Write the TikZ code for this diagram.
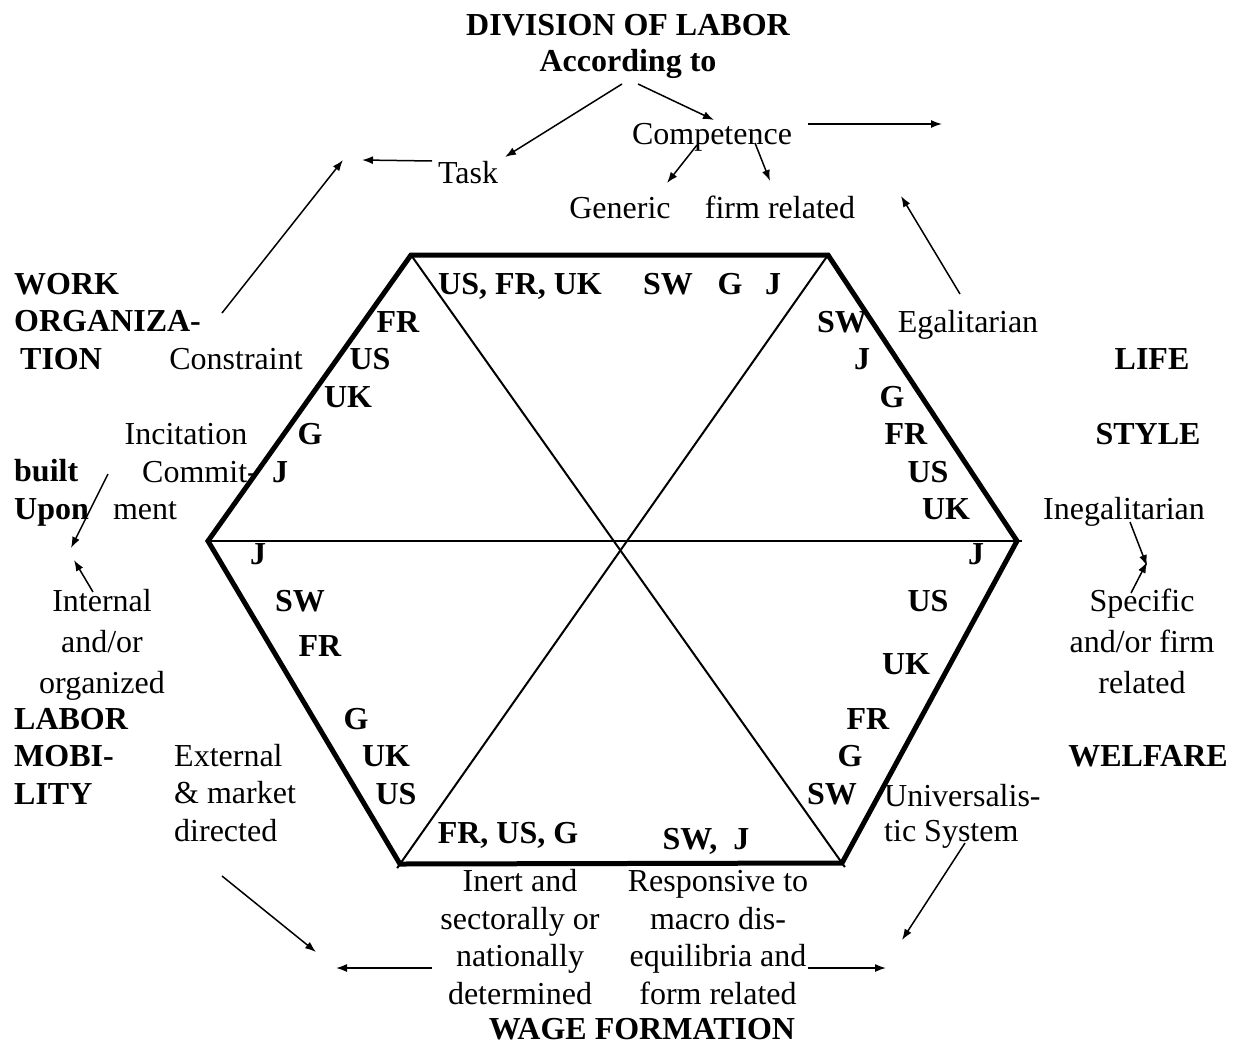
\documentclass[tikz,border=0pt]{standalone}
\usepackage{fontspec}
\setmainfont{Liberation Serif}
\usetikzlibrary{arrows.meta}

\begin{document}
\begin{tikzpicture}[x=1pt,y=-1pt,
    every node/.style={font=\fontsize{32}{37.5}\selectfont,inner sep=0pt,anchor=base},
    hdr/.style={font=\fontsize{32}{37.5}\selectfont\bfseries},
    cty/.style={font=\fontsize{32}{37.5}\selectfont\bfseries},
    wide/.style={font=\fontsize{32}{41}\selectfont},
    hexo/.style={line width=5pt},
    axis/.style={line width=2pt,shorten >=-5pt},
    arr/.style={-{Latex[length=11pt,width=8pt]},line width=1.5pt}
]
\useasboundingbox (0,0) rectangle (1238,1044);

% hexagon corners
\coordinate (tl) at (411,255);
\coordinate (tr) at (828,255);
\coordinate (r) at (1017,541);
\coordinate (br) at (842,863);
\coordinate (bl) at (400,864);
\coordinate (l) at (208,541);
\draw[axis] (tl) -- (br);
\draw[axis] (tr) -- (bl);
\draw[axis] (l) -- (r);
\draw[hexo] (tl) -- (tr) -- (r) -- (br) -- (bl) -- (l) -- cycle;

% division of labor
\node[hdr] (div) at (628,35) {DIVISION OF LABOR};
\node[hdr] (acc) at (628,71) {According to};
\node (comp) at (712,144) {Competence};
\node (task) at (468,183) {Task};
\node (gen) at (620,218) {Generic};
\node (firm) at (780,218) {firm related};

% work organization (multi-line nodes sit on their last line)
\node[hdr,anchor=base west,align=left] (work) at (14,369) {WORK\\ORGANIZA-\\\hspace*{6pt}TION};
\node (constr) at (236,369) {Constraint};
\node (incit) at (186,444) {Incitation};
\node (commit) at (200,482) {Commit-};
\node (ment) at (145,519) {ment};
\node[hdr,anchor=base west,align=left] (built) at (14,519) {built\\Upon};

% labor mobility
\node[wide,align=center] (intern) at (102,693) {Internal\\and/or\\organized};
\node[hdr,anchor=base west,align=left] (labmob) at (14,804) {LABOR\\MOBI-\\LITY};
\node[anchor=base west,align=left] (extern) at (174,841) {External\\\& market\\directed};

% wage formation
\node[align=center] (inert) at (520,1004) {Inert and\\sectorally or\\nationally\\determined};
\node[align=center] (resp) at (718,1004) {Responsive to\\macro dis-\\equilibria and\\form related};
\node[hdr] (wage) at (642,1039) {WAGE FORMATION};

% welfare
\node[anchor=base west,align=left,font=\fontsize{32}{35}\selectfont] (univ) at (884,841) {Universalis-\\tic System};
\node[hdr] (welf) at (1148,766) {WELFARE};

% life style
\node (egal) at (968,332) {Egalitarian};
\node[hdr] (life) at (1152,369) {LIFE};
\node[hdr] (style) at (1148,444) {STYLE};
\node (ineg) at (1124,519) {Inegalitarian};
\node[wide,align=center] (spec) at (1142,693) {Specific\\and/or firm\\related};

% countries, top edge
\node[cty] (t1) at (520,294) {US, FR, UK};
\node[cty] (t2) at (668,294) {SW};
\node[cty] (t3) at (730,294) {G};
\node[cty] (t4) at (773,294) {J};
% upper left edge
\node[cty] (ul1) at (398,332) {FR};
\node[cty] (ul2) at (370,369) {US};
\node[cty] (ul3) at (348,407) {UK};
\node[cty] (ul4) at (310,444) {G};
\node[cty] (ul5) at (280,482) {J};
% upper right edge
\node[cty] (ur1) at (842,332) {SW};
\node[cty] (ur2) at (862,369) {J};
\node[cty] (ur3) at (892,407) {G};
\node[cty] (ur4) at (906,444) {FR};
\node[cty] (ur5) at (928,482) {US};
\node[cty] (ur6) at (946,519) {UK};
% lower left edge
\node[cty] (ll1) at (258,564) {J};
\node[cty] (ll2) at (300,611) {SW};
\node[cty] (ll3) at (320,656) {FR};
\node[cty] (ll4) at (356,729) {G};
\node[cty] (ll5) at (386,766) {UK};
\node[cty] (ll6) at (396,804) {US};
% lower right edge
\node[cty] (lr1) at (976,564) {J};
\node[cty] (lr2) at (928,611) {US};
\node[cty] (lr3) at (906,674) {UK};
\node[cty] (lr4) at (868,729) {FR};
\node[cty] (lr5) at (850,766) {G};
\node[cty] (lr6) at (832,804) {SW};
% bottom edge
\node[cty] (b1) at (508,843) {FR, US, G};
\node[cty] (b2) at (706,849) {SW,\ \ J};

% arrow ends
\coordinate (a1s) at (622,84);   \coordinate (a1e) at (505,157);
\coordinate (a2s) at (638,84);   \coordinate (a2e) at (714,120);
\coordinate (a3s) at (808,124);  \coordinate (a3e) at (942,124);
\coordinate (a4s) at (432,161);  \coordinate (a4e) at (362,160);
\coordinate (a5s) at (697,145);  \coordinate (a5e) at (667,183);
\coordinate (a6s) at (755,143);  \coordinate (a6e) at (770,181);
\coordinate (a7s) at (960,294);  \coordinate (a7e) at (901,196);
\coordinate (a8s) at (222,313);  \coordinate (a8e) at (343,160);
\coordinate (a9s) at (108,474);  \coordinate (a9e) at (71,548);
\coordinate (a10s) at (93,592);  \coordinate (a10e) at (74,560);
\coordinate (a11s) at (1130,522); \coordinate (a11e) at (1147,566);
\coordinate (a12s) at (1131,593); \coordinate (a12e) at (1147,562);
\coordinate (a13s) at (222,876); \coordinate (a13e) at (316,952);
\coordinate (a14s) at (432,968); \coordinate (a14e) at (336,968);
\coordinate (a15s) at (808,968); \coordinate (a15e) at (886,968);
\coordinate (a16s) at (965,843); \coordinate (a16e) at (902,940);
\draw[arr] (a1s) -- (a1e);
\draw[arr] (a2s) -- (a2e);
\draw[arr] (a3s) -- (a3e);
\draw[arr] (a4s) -- (a4e);
\draw[arr] (a5s) -- (a5e);
\draw[arr] (a6s) -- (a6e);
\draw[arr] (a7s) -- (a7e);
\draw[arr] (a8s) -- (a8e);
\draw[arr] (a9s) -- (a9e);
\draw[arr] (a10s) -- (a10e);
\draw[arr] (a11s) -- (a11e);
\draw[arr] (a12s) -- (a12e);
\draw[arr] (a13s) -- (a13e);
\draw[arr] (a14s) -- (a14e);
\draw[arr] (a15s) -- (a15e);
\draw[arr] (a16s) -- (a16e);
\end{tikzpicture}
\end{document}
